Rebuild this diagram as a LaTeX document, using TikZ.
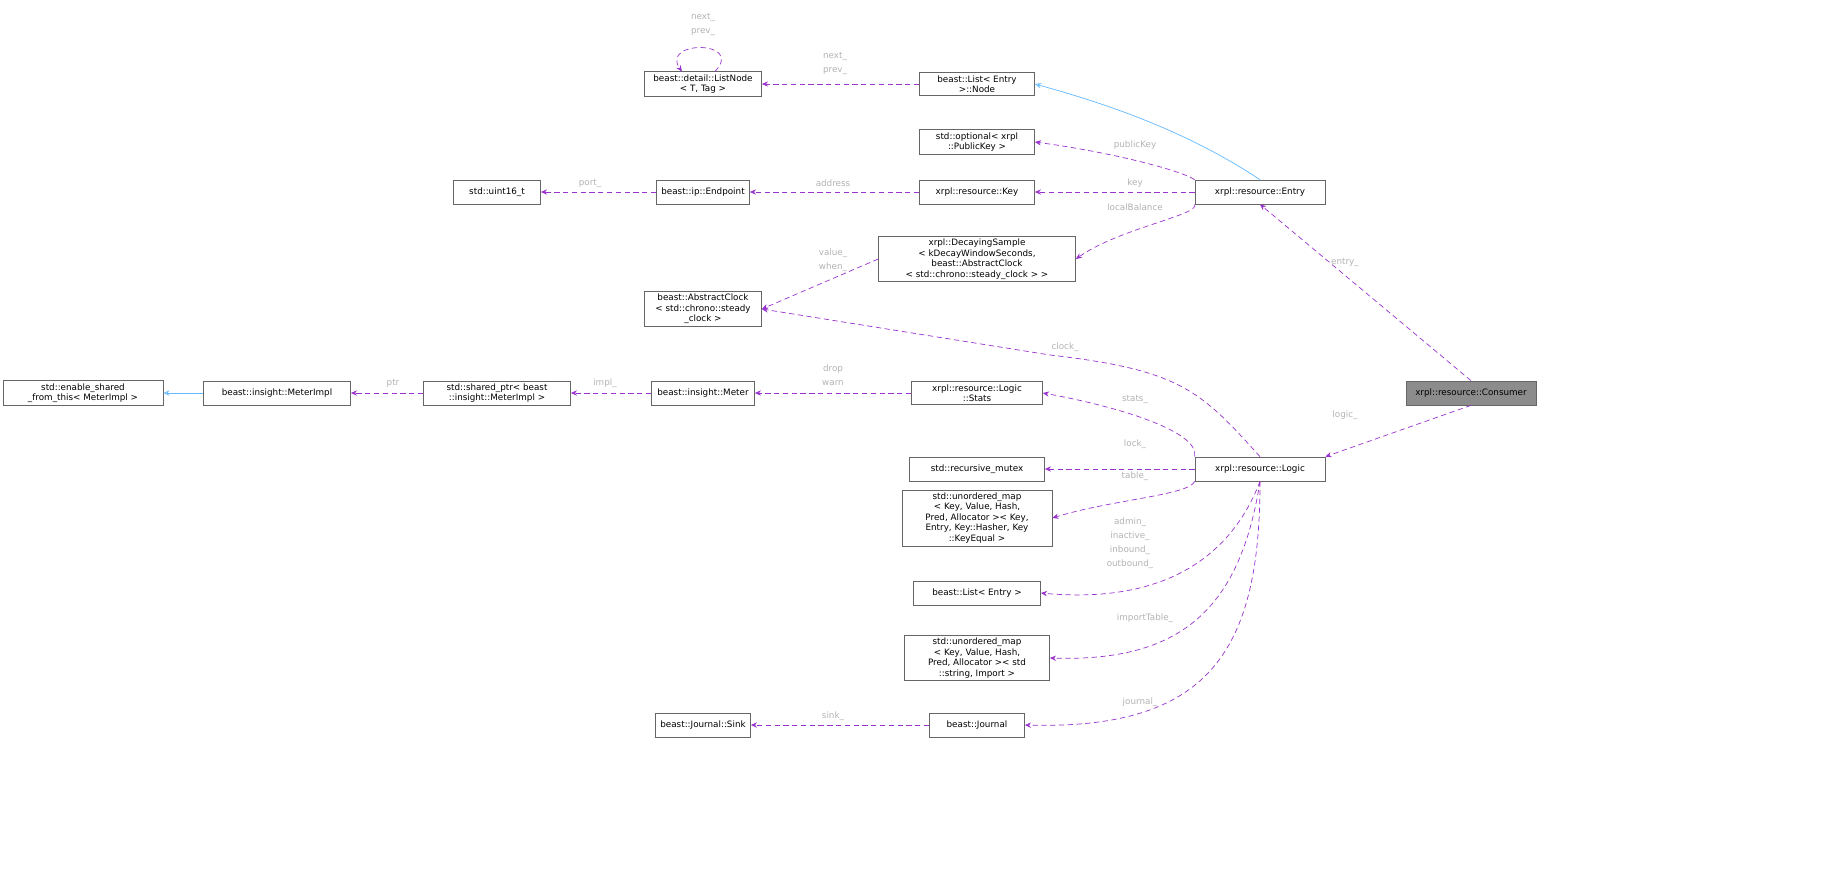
\documentclass[tikz,border=0pt]{standalone}
\usepackage{fontspec}
\setmainfont{DejaVu Sans}
\usetikzlibrary{arrows.meta}
\definecolor{mem}{HTML}{9A32CD}
\definecolor{inh}{HTML}{63B8FF}
\tikzset{
	cls/.style={draw=black!60,fill=white,align=center,font=\fontsize{5}{6}\selectfont,inner sep=1.5pt,line width=0.4pt},
	cur/.style={cls,fill=black!45},
	usage/.style={-{Stealth[length=3.5pt,width=3pt]},densely dashed,draw=mem,line width=0.4pt},
	inherit/.style={-{Stealth[length=3.5pt,width=3pt,open]},draw=inh,line width=0.4pt},
	lbl/.style={text=black!30,font=\fontsize{5}{6}\selectfont,align=center,inner sep=0pt}
}
\begin{document}
\begin{tikzpicture}[x=0.02cm,y=-0.02cm]
	\useasboundingbox (0,0) rectangle (1846,873);
% classes
	\node[cur,minimum width=2.6cm,minimum height=0.48cm] (consumer) at (1471,393) {xrpl::resource::Consumer};
	\node[cls,minimum width=2.6cm,minimum height=0.48cm] (logic) at (1260,469) {xrpl::resource::Logic};
	\node[cls,minimum width=2.6cm,minimum height=0.48cm] (entry) at (1260,192) {xrpl::resource::Entry};
	\node[cls,minimum width=2.3cm] (node) at (977,84) {beast::List\textless{} Entry\\ \textgreater::Node};
	\node[cls,minimum width=2.34cm] (listnode) at (703,84) {beast::detail::ListNode\\\textless{} T, Tag \textgreater};
	\node[cls,minimum width=2.3cm] (optional) at (977,142) {std::optional\textless{} xrpl\\::PublicKey \textgreater};
	\node[cls,minimum width=2.3cm,minimum height=0.48cm] (key) at (977,192) {xrpl::resource::Key};
	\node[cls,minimum width=1.86cm,minimum height=0.48cm] (endpoint) at (703,192) {beast::ip::Endpoint};
	\node[cls,minimum width=1.74cm,minimum height=0.48cm] (uint) at (497,192) {std::uint16\_t};
	\node[cls,minimum width=3.94cm] (decay) at (977,259) {xrpl::DecayingSample\\\textless{} kDecayWindowSeconds,\\ beast::AbstractClock\\\textless{} std::chrono::steady\_clock \textgreater{} \textgreater};
	\node[cls,minimum width=2.34cm] (clock) at (703,309) {beast::AbstractClock\\\textless{} std::chrono::steady\\\_clock \textgreater};
	\node[cls,minimum width=2.62cm] (stats) at (977,393) {xrpl::resource::Logic\\::Stats};
	\node[cls,minimum width=2.06cm,minimum height=0.48cm] (meter) at (703,393) {beast::insight::Meter};
	\node[cls,minimum width=2.94cm] (shared) at (497,393) {std::shared\_ptr\textless{} beast\\::insight::MeterImpl \textgreater};
	\node[cls,minimum width=2.94cm,minimum height=0.48cm] (impl) at (277,393) {beast::insight::MeterImpl};
	\node[cls,minimum width=3.2cm] (enable) at (83,393) {std::enable\_shared\\\_from\_this\textless{} MeterImpl \textgreater};
	\node[cls,minimum width=2.7cm,minimum height=0.48cm] (mutex) at (977,469) {std::recursive\_mutex};
	\node[cls,minimum width=3cm] (table) at (977,518) {std::unordered\_map\\\textless{} Key, Value, Hash,\\ Pred, Allocator \textgreater\textless{} Key,\\ Entry, Key::Hasher, Key\\::KeyEqual \textgreater};
	\node[cls,minimum width=2.54cm,minimum height=0.48cm] (list) at (977,593) {beast::List\textless{} Entry \textgreater};
	\node[cls,minimum width=2.9cm] (import) at (977,658) {std::unordered\_map\\\textless{} Key, Value, Hash,\\ Pred, Allocator \textgreater\textless{} std\\::string, Import \textgreater};
	\node[cls,minimum width=1.9cm,minimum height=0.48cm] (journal) at (977,725) {beast::Journal};
	\node[cls,minimum width=1.9cm,minimum height=0.48cm] (sink) at (703,725) {beast::Journal::Sink};

	% inheritance
	\draw[inherit] (entry.north) .. controls (1200,140) and (1130,110) .. (node.east);
	\draw[inherit] (impl) -- (enable);

	% members
	\draw[usage] (consumer.north) -- (entry.south);
	\draw[usage] (consumer.south) -- (logic.north east);
	\draw[usage] (entry.north west) .. controls (1180,170) and (1110,152) .. (optional.east);
	\draw[usage] (entry) -- (key);
	\draw[usage] (entry.south west) .. controls (1200,215) and (1120,228) .. (decay.east);
	\draw[usage] (node) -- (listnode);
	\draw[usage] (listnode.north) ++(12,0) coordinate (ln1) .. controls (745,40) and (660,40) .. ([xshift=-12]listnode.north);
	\draw[usage] (key) -- (endpoint);
	\draw[usage] (endpoint) -- (uint);
	\draw[usage] (decay.west) -- (clock.east);
	\draw[usage] (logic.north) .. controls (1200,390) and (1180,370) .. (1050,355) -- (clock.east);
	\draw[usage] (logic.north west) .. controls (1200,430) and (1110,405) .. (stats.east);
	\draw[usage] (logic) -- (mutex);
	\draw[usage] (logic.south west) .. controls (1190,495) and (1110,500) .. (table.east);
	\draw[usage] (logic.south) .. controls (1230,560) and (1160,604) .. (list.east);
	\draw[usage] (logic.south) .. controls (1240,610) and (1180,662) .. (import.east);
	\draw[usage] (logic.south) .. controls (1260,650) and (1210,730) .. (journal.east);
	\draw[usage] (stats) -- (meter);
	\draw[usage] (meter) -- (shared);
	\draw[usage] (shared) -- (impl);
	\draw[usage] (journal) -- (sink);

	% labels
	\node[lbl] (lentry) at (1345,262) {entry\_};
	\node[lbl] (llogic) at (1345,415) {logic\_};
	\node[lbl] (lpub) at (1135,145) {publicKey};
	\node[lbl] (lkey) at (1135,183) {key};
	\node[lbl] (lbal) at (1135,207) {localBalance};
	\node[lbl] (lnext) at (835,63) {next\_\\[2pt]prev\_};
	\node[lbl] (lself) at (703,24) {next\_\\[2pt]prev\_};
	\node[lbl] (laddr) at (833,183) {address};
	\node[lbl] (lport) at (590,183) {port\_};
	\node[lbl] (lval) at (833,260) {value\_\\[2pt]when\_};
	\node[lbl] (lclock) at (1065,347) {clock\_};
	\node[lbl] (ldrop) at (833,375) {drop\\[2pt]warn};
	\node[lbl] (limpl) at (605,383) {impl\_};
	\node[lbl] (lptr) at (393,383) {ptr};
	\node[lbl] (lstats) at (1135,399) {stats\_};
	\node[lbl] (llock) at (1135,444) {lock\_};
	\node[lbl] (ltable) at (1135,476) {table\_};
	\node[lbl] (lsets) at (1130,543) {admin\_\\[2pt]inactive\_\\[2pt]inbound\_\\[2pt]outbound\_};
	\node[lbl] (limport) at (1145,618) {importTable\_};
	\node[lbl] (ljournal) at (1140,702) {journal\_};
	\node[lbl] (lsink) at (833,716) {sink\_};
\end{tikzpicture}
\end{document}
